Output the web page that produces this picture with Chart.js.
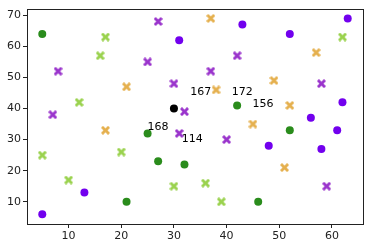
<!DOCTYPE html>
<html>
<head>
<meta charset="utf-8">
<script src="https://cdn.jsdelivr.net/npm/chart.js@4/dist/chart.umd.min.js"></script>
<style>
  html, body { margin: 0; padding: 0; background: #fff; }
  #wrap { width: 368px; height: 248px; }
</style>
</head>
<body>
<div id="wrap"><canvas id="scatterChart" width="368" height="248"></canvas></div>
<script>
"use strict";

// purple circles
var violetX = [5, 13, 31, 43, 52, 63, 62, 56, 61, 48, 58];
var violetY = [6, 13, 62, 67, 64, 69, 42, 37, 33, 28, 27];

// green circles
var greenX = [5, 25, 27, 21, 32, 42, 52, 46];
var greenY = [64, 32, 23, 10, 22, 41, 33, 10];

// light green crosses
var limeX = [17, 16, 12, 5, 10, 20, 30, 62, 36, 39];
var limeY = [63, 57, 42, 25, 17, 26, 15, 63, 16, 10];

// orange crosses
var orangeX = [21, 17, 37, 57, 49, 38, 52, 45, 51];
var orangeY = [47, 33, 69, 58, 49, 46, 41, 35, 21];

// orchid crosses
var orchidX = [8, 7, 27, 25, 30, 32, 31, 42, 37, 58, 40, 59];
var orchidY = [52, 38, 68, 55, 48, 39, 32, 57, 52, 48, 30, 15];

// black point
var blackX = [30];
var blackY = [40];

// text labels
var noteText = ['167', '172', '156', '168', '114'];
var noteX = [33.1, 41, 44.9, 25, 31.5];
var noteY = [44.3, 44.3, 40.5, 33.2, 29.2];

var xTicks = [10, 20, 30, 40, 50, 60];
var yTicks = [10, 20, 30, 40, 50, 60, 70];

var toPoints = function (xs, ys) {
    return xs.map(function (x, i) { return { x: x, y: ys[i] }; });
};

var makeCross = function (color) {
    var c = document.createElement('canvas');
    c.width = 9;
    c.height = 9;
    var g = c.getContext('2d');
    g.translate(4.5, 4.5);
    g.fillStyle = color;
    for (var k = 0; k < 2; k++) {
        g.save();
        g.rotate(Math.PI / 4 + k * Math.PI / 2);
        g.fillRect(-5, -1.4, 10, 2.8);
        g.restore();
    }
    return c;
};

var framePlugin = {
    id: 'frame',
    afterDatasetsDraw: function (chart) {
        var ctx = chart.ctx;
        var a = chart.chartArea;
        var xs = chart.scales.x, ys = chart.scales.y;
        ctx.save();
        ctx.fillStyle = '#000';
        ctx.font = '11px "DejaVu Sans"';
        ctx.textAlign = 'left';
        ctx.textBaseline = 'alphabetic';
        noteText.forEach(function (t, i) {
            ctx.fillText(t, xs.getPixelForValue(noteX[i]), ys.getPixelForValue(noteY[i]));
        });
        ctx.strokeStyle = '#222';
        ctx.lineWidth = 1;
        ctx.strokeRect(Math.round(a.left) + 0.5, Math.round(a.top) + 0.5,
            Math.round(a.right - a.left), Math.round(a.bottom - a.top));
        ctx.restore();
    }
};

var circleSet = function (xs, ys, color) {
    return {
        data: toPoints(xs, ys),
        pointStyle: 'circle',
        pointRadius: 4,
        pointBackgroundColor: color,
        pointBorderColor: color,
        pointBorderWidth: 0
    };
};

var crossSet = function (xs, ys, color) {
    return {
        data: toPoints(xs, ys),
        pointStyle: makeCross(color),
        pointRadius: 4
    };
};

var ctx = document.getElementById('scatterChart').getContext('2d');
new Chart(ctx, {
    type: 'scatter',
    data: {
        datasets: [
            circleSet(violetX, violetY, '#7200ee'),
            circleSet(greenX, greenY, '#2a8c1c'),
            crossSet(limeX, limeY, '#9ad24e'),
            crossSet(orangeX, orangeY, '#e5b04e'),
            crossSet(orchidX, orchidY, '#9a34cc'),
            circleSet(blackX, blackY, '#000000')
        ]
    },
    options: {
        responsive: false,
        animation: false,
        layout: { padding: { top: 6, right: 5, left: 0, bottom: 0 } },
        plugins: {
            legend: { display: false },
            tooltip: { enabled: false }
        },
        scales: {
            x: {
                type: 'linear',
                min: 2.1,
                max: 65.9,
                afterBuildTicks: function (axis) {
                    axis.ticks = xTicks.map(function (v) { return { value: v }; });
                },
                afterFit: function (axis) { axis.height = 24; },
                grid: { drawOnChartArea: false, drawTicks: true, tickLength: 4, color: '#222' },
                border: { display: false },
                ticks: { color: '#222', padding: 2, font: { family: 'DejaVu Sans', size: 11 }, maxRotation: 0 }
            },
            y: {
                type: 'linear',
                min: 2.85,
                max: 72.15,
                afterBuildTicks: function (axis) {
                    axis.ticks = yTicks.map(function (v) { return { value: v }; });
                },
                afterFit: function (axis) { axis.width = 27; },
                grid: { drawOnChartArea: false, drawTicks: true, tickLength: 4, color: '#222' },
                border: { display: false },
                ticks: { color: '#222', padding: 2, font: { family: 'DejaVu Sans', size: 11 } }
            }
        }
    },
    plugins: [framePlugin]
});
</script>
</body>
</html>
